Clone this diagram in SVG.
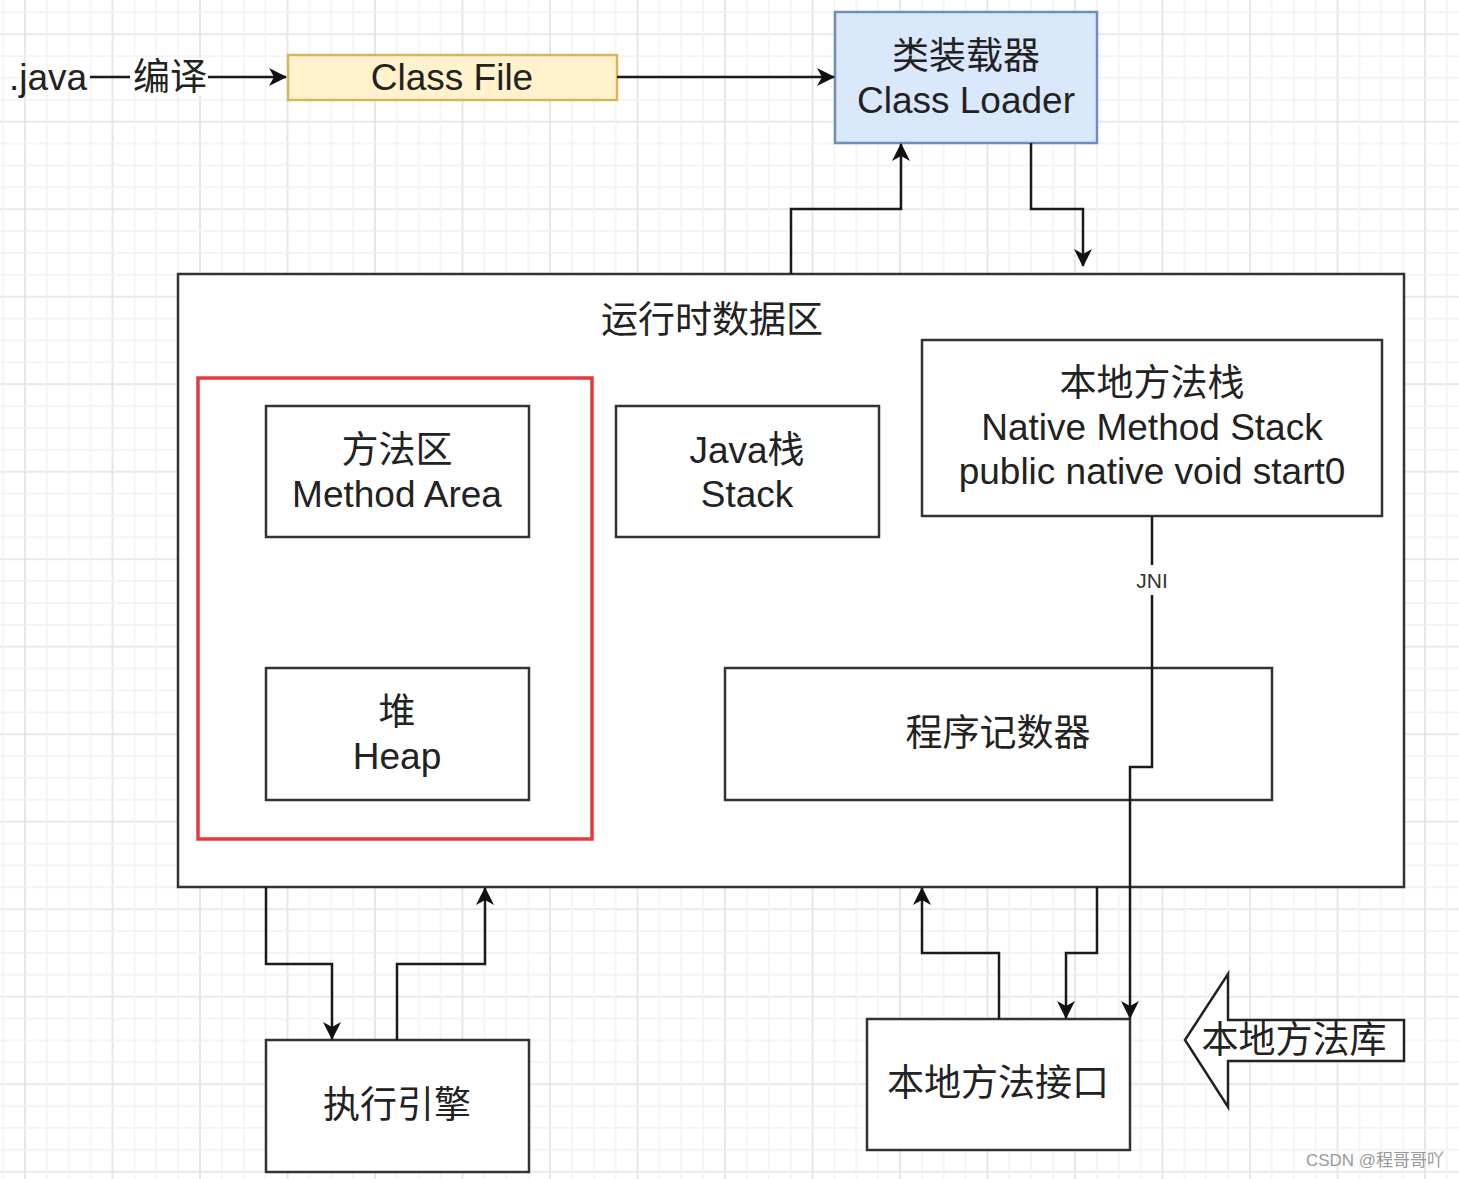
<svg xmlns="http://www.w3.org/2000/svg" width="1459" height="1179" viewBox="0 0 1459 1179">
<defs>
<pattern id="grid" patternUnits="userSpaceOnUse" x="24" y="33.2" width="87.5" height="87.5">
<path d="M1,0 V87.5 M0,1 H87.5" stroke="#e2e2e2" stroke-width="1.6" fill="none"/>
<path d="M22.875,0 V87.5 M44.75,0 V87.5 M66.625,0 V87.5 M0,22.875 H87.5 M0,44.75 H87.5 M0,66.625 H87.5" stroke="#f1f1f1" stroke-width="1.4" fill="none"/>
</pattern>
<marker id="arr" viewBox="0 0 18 18" refX="17" refY="9" markerWidth="18" markerHeight="18" markerUnits="userSpaceOnUse" orient="auto">
<path d="M0,0 L18,9 L0,18 L5,9 Z" fill="#111"/>
</marker>
</defs>
<style>
.t{font-family:"Liberation Sans","Noto Sans CJK SC",sans-serif;font-size:37px;fill:#222;text-anchor:middle;dominant-baseline:central}
.box{fill:#fff;stroke:#333;stroke-width:2.5}
.edge{fill:none;stroke:#1a1a1a;stroke-width:2.5}
</style>
<rect width="1459" height="1179" fill="#fff"/>
<rect width="1459" height="1179" fill="url(#grid)"/>

<g id="java-src">
<text class="t" x="48" y="77">.java</text>
</g>
<g id="class-file">
<rect x="288" y="55" width="329" height="45" fill="#fff2cc" stroke="#d6b656" stroke-width="2.5"/>
<text class="t" x="452" y="77">Class File</text>
</g>
<g id="class-loader">
<rect x="835" y="12" width="262" height="131" fill="#dae8fc" stroke="#6c8ebf" stroke-width="2.5"/>
<text class="t" x="966" y="56">类装载器</text>
<text class="t" x="966" y="100">Class Loader</text>
</g>
<g id="runtime-data-area">
<rect class="box" x="178" y="274" width="1226" height="613"/>
<text class="t" x="712" y="320">运行时数据区</text>
</g>
<g id="shared-area">
<rect x="198" y="378" width="394" height="461" fill="none" stroke="#e53a3a" stroke-width="3.5"/>
</g>
<g id="method-area">
<rect class="box" x="266" y="406" width="263" height="131"/>
<text class="t" x="397" y="450">方法区</text>
<text class="t" x="397" y="494">Method Area</text>
</g>
<g id="java-stack">
<rect class="box" x="616" y="406" width="263" height="131"/>
<text class="t" x="747" y="450">Java栈</text>
<text class="t" x="747" y="494">Stack</text>
</g>
<g id="native-method-stack">
<rect class="box" x="922" y="340" width="460" height="176"/>
<text class="t" x="1152" y="383">本地方法栈</text>
<text class="t" x="1152" y="427">Native Method Stack</text>
<text class="t" x="1152" y="471">public native void start0</text>
</g>
<g id="heap">
<rect class="box" x="266" y="668" width="263" height="132"/>
<text class="t" x="397" y="712">堆</text>
<text class="t" x="397" y="756">Heap</text>
</g>
<g id="pc-register">
<rect class="box" x="725" y="668" width="547" height="132"/>
<text class="t" x="998" y="733">程序记数器</text>
</g>
<g id="execution-engine">
<rect class="box" x="266" y="1040" width="263" height="132"/>
<text class="t" x="397" y="1105">执行引擎</text>
</g>
<g id="native-interface">
<rect class="box" x="867" y="1019" width="263" height="131"/>
<text class="t" x="998" y="1083">本地方法接口</text>
</g>
<g id="native-library">
<polygon points="1185,1040 1228,974 1228,1020 1404,1020 1404,1061 1228,1061 1228,1107" fill="#fff" stroke="#222" stroke-width="2.5"/>
<text class="t" x="1294" y="1040">本地方法库</text>
</g>

<g id="connectors">
<path class="edge" d="M90,77 H286" marker-end="url(#arr)"/>
<rect x="130" y="58" width="78" height="38" fill="#fff"/>
<text class="t" x="170" y="77">编译</text>
<path class="edge" d="M617,77 H834" marker-end="url(#arr)"/>
<path class="edge" d="M791,274 V209 H901 V144" marker-end="url(#arr)"/>
<path class="edge" d="M1031,143 V209 H1083 V266" marker-end="url(#arr)"/>
<path class="edge" d="M1152,516 V767 H1130 V1018" marker-end="url(#arr)"/>
<rect x="1130" y="565" width="44" height="30" fill="#fff"/>
<text class="t" x="1152" y="580" style="font-size:21px;fill:#333">JNI</text>
<path class="edge" d="M266,887 V964 H332 V1039" marker-end="url(#arr)"/>
<path class="edge" d="M397,1040 V964 H485 V888" marker-end="url(#arr)"/>
<path class="edge" d="M999,1019 V953 H922 V888" marker-end="url(#arr)"/>
<path class="edge" d="M1097,887 V953 H1066 V1018" marker-end="url(#arr)"/>
</g>

<text x="1375" y="1160" style="font-family:'Liberation Sans','Noto Sans CJK SC',sans-serif;font-size:17px;fill:#999;text-anchor:middle;dominant-baseline:central">CSDN @程哥哥吖</text>
</svg>
